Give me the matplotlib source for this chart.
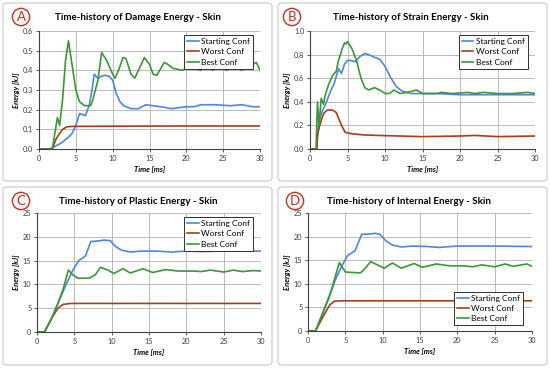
import numpy as np
import matplotlib.pyplot as plt
from matplotlib.patches import FancyBboxPatch

plt.rcParams['font.family'] = ['Lato', 'DejaVu Sans']

# ---- data ----
# A: damage energy
tA_start = [0, 1.5, 2.5, 3, 4, 4.5, 5, 5.5, 6.3, 6.8, 7.2, 7.5, 8, 8.5, 9, 9.5, 10, 10.5, 11, 11.5,
            12.5, 13.5, 14.5, 15.5, 16.5, 18, 20, 21, 22, 24, 26, 27.5, 29, 30]
eA_start = [0, 0, 0.02, 0.03, 0.06, 0.08, 0.12, 0.18, 0.17, 0.22, 0.30, 0.38, 0.36, 0.37, 0.375, 0.37, 0.35, 0.28, 0.24, 0.22,
            0.205, 0.205, 0.225, 0.22, 0.215, 0.205, 0.215, 0.215, 0.225, 0.225, 0.22, 0.225, 0.215, 0.215]
tA_worst = [0, 1.8, 2.3, 2.8, 3.2, 3.8, 4.5, 10, 20, 30]
eA_worst = [0, 0, 0.05, 0.08, 0.10, 0.113, 0.115, 0.116, 0.117, 0.117]
tA_best = [0, 1.8, 2.5, 2.8, 3.2, 3.6, 4.0, 4.4, 5, 5.5, 6.2, 7, 7.3, 8, 8.5, 9.2, 10, 10.3, 10.8, 11.4, 11.8,
           12.5, 13, 13.5, 14.3, 15, 15.5, 16, 17, 17.5, 18.2, 19.5, 20.2, 21, 22, 22.6, 23.5, 24.5, 25.5,
           26.5, 27.5, 28.5, 29.5, 30]
eA_best = [0, 0, 0.16, 0.12, 0.25, 0.45, 0.55, 0.45, 0.30, 0.24, 0.22, 0.22, 0.25, 0.35, 0.49, 0.45, 0.38, 0.36, 0.40, 0.465, 0.46,
           0.38, 0.36, 0.40, 0.465, 0.43, 0.38, 0.375, 0.44, 0.43, 0.41, 0.40, 0.42, 0.41, 0.40, 0.43, 0.40, 0.42, 0.40,
           0.43, 0.40, 0.42, 0.44, 0.40]

# B: strain energy
tB_start = [0, 0.9, 1.1, 1.5, 2.2, 2.8, 3.2, 3.8, 4.2, 4.6, 5, 5.5, 6, 6.6, 7.3, 7.8, 8.5, 9.3, 10, 10.8,
            11.5, 12.3, 13.5, 15, 17, 20, 25, 30]
eB_start = [0, 0, 0.2, 0.3, 0.4, 0.5, 0.55, 0.68, 0.64, 0.72, 0.75, 0.75, 0.74, 0.78, 0.81, 0.80, 0.78, 0.76, 0.70, 0.60,
            0.53, 0.49, 0.47, 0.47, 0.47, 0.46, 0.46, 0.46]
tB_worst = [0, 0.9, 1.0, 1.3, 1.8, 2.3, 3.0, 3.5, 4.2, 4.7, 5.5, 7, 9, 12, 15, 20, 22, 25, 30]
eB_worst = [0, 0, 0.12, 0.20, 0.30, 0.33, 0.33, 0.31, 0.20, 0.14, 0.13, 0.12, 0.115, 0.11, 0.105, 0.11, 0.115, 0.105, 0.11]
tB_best = [0, 0.8, 1.0, 1.2, 1.5, 1.8, 2, 2.5, 3, 3.5, 3.8, 4.3, 4.6, 4.8, 5, 5.6, 6.2, 6.8, 7.3, 7.8, 8.6, 9.3,
           10, 10.6, 11.2, 12, 13, 14.2, 15, 17, 17.5, 19, 21, 22, 23.2, 25, 27, 29, 30]
eB_best = [0, 0, 0.40, 0.20, 0.43, 0.38, 0.45, 0.55, 0.62, 0.66, 0.75, 0.85, 0.90, 0.89, 0.91, 0.85, 0.75, 0.60, 0.52, 0.50, 0.52, 0.50,
           0.47, 0.47, 0.50, 0.47, 0.48, 0.50, 0.47, 0.47, 0.48, 0.47, 0.48, 0.47, 0.48, 0.47, 0.47, 0.48, 0.47]

# C: plastic energy
tC_start = [0, 1, 2, 2.8, 3.9, 4.8, 5.6, 6.5, 7.2, 8, 9, 9.8, 10.5, 11.3, 12.5, 14, 16, 18, 20, 22, 25, 30]
eC_start = [0, 0, 3, 6, 10, 13, 15, 16, 19, 19.1, 19.3, 19.2, 18, 17.2, 16.8, 17, 17, 16.8, 17, 16.9, 17, 17]
tC_worst = [0, 1, 2, 2.8, 3.5, 4.5, 10, 20, 30]
eC_worst = [0, 0, 3, 5, 5.8, 6, 6, 6, 6]
tC_best = [0, 1, 2, 2.8, 3.5, 4.2, 4.8, 5.5, 7, 7.8, 8.5, 9.5, 10.3, 11.5, 12.5, 14.2, 15.5, 17.2, 19, 21, 22,
           23.2, 25, 26.3, 27.5, 29, 30]
eC_best = [0, 0, 3, 6, 9, 13, 12, 11.3, 11.3, 12, 13.6, 13, 12.3, 13.3, 12.4, 13.3, 12.5, 13.1, 12.8, 12.8, 12.7,
           13, 12.6, 13, 12.7, 12.9, 12.8]

# D: internal energy
tD_start = [0, 1, 1.8, 2.8, 3.7, 4.6, 5.3, 6.3, 7.2, 8, 9, 9.6, 10.5, 11.3, 12.5, 14, 16, 17.5, 20, 22, 25, 30]
eD_start = [0, 0, 3, 7, 11, 14, 16, 17, 20.5, 20.5, 20.7, 20.5, 19, 18.2, 17.8, 18, 17.9, 17.7, 18, 18, 18, 17.9]
tD_worst = [0, 1, 2, 2.9, 3.5, 4.5, 10, 20, 30]
eD_worst = [0, 0, 3, 5.5, 6.3, 6.4, 6.4, 6.4, 6.4]
tD_best = [0, 1, 2, 3, 4.2, 5, 6, 7, 7.5, 8.4, 9.3, 10.2, 11.3, 12.5, 14.2, 15.3, 17.2, 19, 21, 22, 23.3, 25,
           26.4, 27.5, 29.3, 30]
eD_best = [0, 0, 4, 8, 14.5, 12.5, 12.4, 12.3, 13, 14.7, 14, 13.3, 14.4, 13.3, 14.3, 13.5, 14.2, 13.8, 13.8, 13.6, 14, 13.6,
           14.2, 13.7, 14.2, 13.7]

titles = ["Time-history of Damage Energy - Skin", "Time-history of Strain Energy - Skin",
          "Time-history of Plastic Energy - Skin", "Time-history of Internal Energy - Skin"]
letters = ["A", "B", "C", "D"]
series_names = ["Starting Conf", "Worst Conf", "Best Conf"]

c_blue = '#4f86dc'
c_red = '#a2401c'
c_green = '#3c963a'
c_mark = '#b03a2a'

fig = plt.figure(figsize=(5.5, 3.68), dpi=100)
W, H = 550, 368

def px(x0, y0, x1, y1):
    return [x0 / W, 1 - y1 / H, (x1 - x0) / W, (y1 - y0) / H]

# panel frames
for (x0, y0, x1, y1) in [(3, 3, 272, 181), (278, 3, 547, 181), (3, 187, 272, 365), (278, 187, 547, 365)]:
    fig.patches.append(FancyBboxPatch((x0 / W, 1 - y1 / H), (x1 - x0) / W, (y1 - y0) / H,
                                      boxstyle="round,pad=0,rounding_size=0.008",
                                      transform=fig.transFigure, fill=False,
                                      edgecolor='#c8c8c8', linewidth=0.8))

axes_pos = [px(39, 31, 260, 149), px(310, 31, 535, 149), px(37, 213, 261, 332), px(308, 213, 532, 331)]
ylims = [(0, 0.6, 0.1, '%.1f'), (0, 1.0, 0.2, '%.1f'), (0, 25, 5, '%d'), (0, 25, 5, '%d')]
data = [
    [(tA_start, eA_start), (tA_worst, eA_worst), (tA_best, eA_best)],
    [(tB_start, eB_start), (tB_worst, eB_worst), (tB_best, eB_best)],
    [(tC_start, eC_start), (tC_worst, eC_worst), (tC_best, eC_best)],
    [(tD_start, eD_start), (tD_worst, eD_worst), (tD_best, eD_best)],
]
title_pos = [(138, 17), (411, 17), (138, 201), (409, 201)]
circle_pos = [(21, 17), (292, 17), (21, 201), (295, 201)]
legend_anchor = [(0.968, 0.966), (0.968, 0.966), (0.964, 0.966), (0.96, 0.05)]

for i in range(4):
    ax = fig.add_axes(axes_pos[i])
    for (t, e), col, name in zip(data[i], [c_blue, c_red, c_green], series_names):
        ax.plot(t, e, color=col, linewidth=1.2, label=name)
    y0, y1, step, fmt = ylims[i]
    ax.set_xlim(0, 30)
    ax.set_ylim(y0, y1)
    ax.set_xticks(np.arange(0, 31, 5))
    ticks = np.arange(y0, y1 + step / 2, step)
    ax.set_yticks(ticks)
    ax.set_yticklabels([fmt % v for v in ticks])
    ax.grid(True, color='#b0b0b0', linewidth=0.6)
    ax.set_axisbelow(True)
    for s in ['top', 'right']:
        ax.spines[s].set_visible(False)
    for s in ['left', 'bottom']:
        ax.spines[s].set_color('#404040')
        ax.spines[s].set_linewidth(0.8)
    ax.tick_params(labelsize=5.3, length=2, width=0.6, pad=2, colors='#404040')
    ax.set_xlabel('Time [ms]', fontsize=5.5, fontweight='bold', style='italic', labelpad=3)
    ax.set_ylabel('Energy [kJ]', fontsize=5.5, fontweight='bold', style='italic', labelpad=2)
    loc = 'lower right' if i == 3 else 'upper right'
    leg = ax.legend(loc=loc, fontsize=6.0, fancybox=False, framealpha=1, edgecolor='#303030',
                    handlelength=1.4, handletextpad=0.3, borderpad=0.35, labelspacing=0.4,
                    borderaxespad=0, bbox_to_anchor=legend_anchor[i])
    leg.get_frame().set_linewidth(0.7)
    tx, ty = title_pos[i]
    fig.text(tx / W, 1 - ty / H, titles[i], ha='center', va='center',
             fontsize=7, fontweight='bold')
    cx, cy = circle_pos[i]
    fig.text(cx / W, 1 - cy / H, letters[i], ha='center', va='center', fontsize=9.5,
             color=c_mark,
             bbox=dict(boxstyle='circle,pad=0.2', facecolor='#fff4f5', edgecolor=c_mark, linewidth=1.0))

fig.savefig('out.png', dpi=100)
